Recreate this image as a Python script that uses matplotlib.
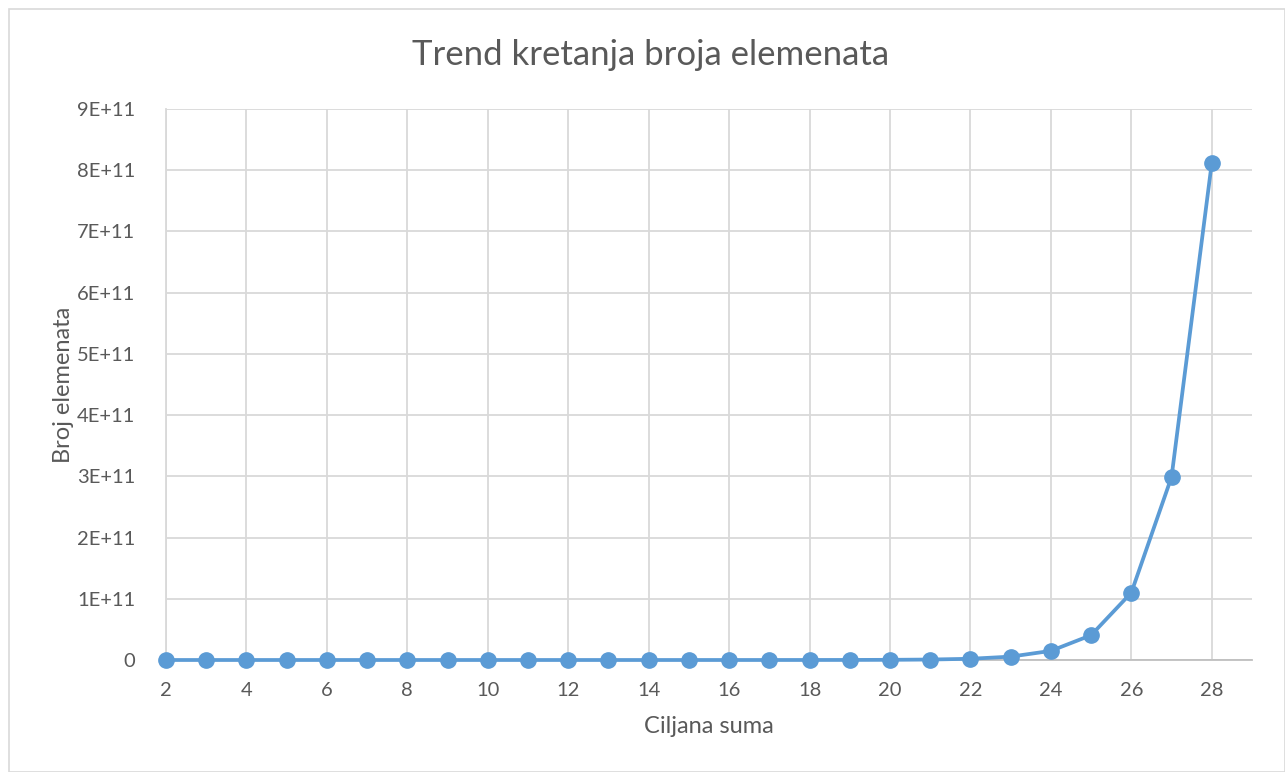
import numpy as np
import matplotlib.pyplot as plt
from matplotlib.ticker import FuncFormatter, MultipleLocator
from matplotlib.patches import Rectangle

# ciljana suma (x) i broj elemenata (y), ocitano sa grafa
ciljana_suma = list(range(2, 29))
broj_elemenata = [4, 11, 30, 85, 230, 600, 1.7e3, 4.6e3, 1.2e4, 3.4e4, 9e4,
                  2.5e5, 7e5, 1.9e6, 5e6, 1.4e7, 3.8e7, 1.0e8, 2.8e8, 7.5e8,
                  2.0e9, 5.5e9, 1.49e10, 4.05e10, 1.10e11, 2.99e11, 8.12e11]

TEXT = '#595959'
GRID = '#D9D9D9'
BLUE = '#5B9BD5'

plt.rcParams['font.family'] = ['Lato', 'DejaVu Sans']

def fmt_y(v, pos):
    if v == 0:
        return '0'
    return '%dE+11' % round(v / 1e11)

def main():
    fig = plt.figure(figsize=(12.85, 7.72), dpi=100)
    fig.patches.append(Rectangle((9 / 1285, 0), 1 - 9 / 1285, 1 - 9 / 772,
                                 transform=fig.transFigure, fill=False,
                                 edgecolor=GRID, linewidth=1.2))
    ax = fig.add_axes([166 / 1285, 1 - 660 / 772, (1252 - 166) / 1285, (660 - 109) / 772])

    ax.plot(ciljana_suma, broj_elemenata, color=BLUE, linewidth=2.7,
            marker='o', markersize=11, zorder=3, clip_on=False)

    ax.set_xlim(2, 29)
    ax.set_ylim(0, 9e11)
    ax.yaxis.set_major_locator(MultipleLocator(1e11))
    ax.yaxis.set_major_formatter(FuncFormatter(fmt_y))
    ax.set_xticks(range(2, 29, 2))

    ax.grid(True, color=GRID, linewidth=1.3)
    ax.set_axisbelow(True)
    for s in ['top', 'right']:
        ax.spines[s].set_visible(False)
    ax.spines['left'].set_color(GRID)
    ax.spines['left'].set_linewidth(1.3)
    ax.spines['bottom'].set_color('#BFBFBF')
    ax.spines['bottom'].set_linewidth(1.3)
    ax.tick_params(length=0, labelsize=14.5, colors=TEXT)
    ax.tick_params(axis='x', pad=16)
    ax.tick_params(axis='y', pad=22)

    fig.text(651 / 1285, 1 - 55 / 772, 'Trend kretanja broja elemenata',
             fontsize=25, color=TEXT, ha='center', va='center')
    ax.set_xlabel('Ciljana suma', fontsize=17, color=TEXT, labelpad=12)
    ax.set_ylabel('Broj elemenata', fontsize=17, color=TEXT, labelpad=2)

    plt.savefig('out.png', dpi=100)

if __name__ == '__main__':
    main()
